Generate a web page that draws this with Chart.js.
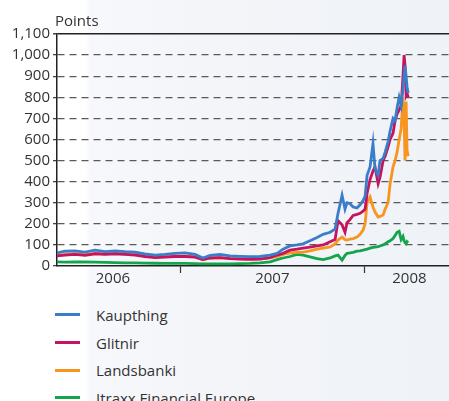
<!DOCTYPE html>
<html>
<head>
<meta charset="utf-8">
<script src="https://cdn.jsdelivr.net/npm/chart.js@4.4.0/dist/chart.umd.min.js"></script>
<style>
  body {
    margin: 0;
    width: 449px;
    height: 401px;
    overflow: hidden;
    font-family: "Open Sans", sans-serif;
    background: linear-gradient(to right, #ffffff 0, #ffffff 19%, #f7f8fb 20%, #f3f5f9 46%, #eff2f7 100%);
  }
  #wrap { position: relative; width: 449px; height: 292px; }
  #legend { position: absolute; left: 55px; top: 301px; }
  .item { display: flex; align-items: center; height: 27.7px; font-size: 15px; color: #333; }
  .swatch { width: 25px; height: 3px; margin-right: 16px; }
</style>
</head>
<body>
<div id="wrap"><canvas id="chart1" width="449" height="292"></canvas></div>
<div id="legend"></div>
<script>
// dates as fractional years
const dates = [
  2006.330, 2006.373, 2006.428, 2006.482, 2006.537, 2006.591, 2006.645, 2006.700,
  2006.754, 2006.808, 2006.863, 2006.917, 2006.971, 2007.026, 2007.080, 2007.123,
  2007.162, 2007.216, 2007.270, 2007.325, 2007.379, 2007.433, 2007.488, 2007.526,
  2007.558, 2007.596, 2007.634, 2007.667, 2007.705, 2007.743, 2007.776, 2007.814,
  2007.841, 2007.857, 2007.879, 2007.895, 2007.906, 2007.922, 2007.939, 2007.960,
  2007.977, 2007.993, 2008.004, 2008.015, 2008.031, 2008.047, 2008.058, 2008.075,
  2008.085, 2008.102, 2008.113, 2008.129, 2008.140, 2008.156, 2008.167, 2008.178,
  2008.189, 2008.200, 2008.210, 2008.216, 2008.221, 2008.227, 2008.232, 2008.238
];

const kaupthing = [
  62, 70, 72, 66, 75, 68, 72, 68, 66, 58, 52, 55, 60, 62, 55, 38,
  50, 55, 48, 46, 44, 45, 52, 60, 80, 95, 100, 105, 120, 135, 150, 160,
  175, 250, 335, 270, 300, 295, 280, 275, 290, 310, 330, 430, 470, 580,
  460, 430, 500, 510, 540, 590, 640, 700, 690, 750, 800, 760, 840, 900,
  950, 900, 850, 820
];
const glitnir = [
  48, 52, 55, 50, 58, 55, 58, 55, 52, 45, 40, 42, 45, 45, 42, 30,
  38, 40, 35, 33, 32, 33, 40, 52, 60, 75, 80, 85, 90, 95, 100, 115,
  125, 215, 195, 160, 205, 220, 240, 245, 250, 260, 270, 345, 410, 450,
  470, 390, 420, 500, 520, 565, 600, 630, 690, 720, 740, 760, 900, 1000,
  950, 810, 820, 800
];
const landsbanki = [
  52, 55, 58, 54, 60, 58, 60, 57, 55, 48, 43, 45, 47, 47, 44, 30,
  38, 40, 36, 34, 33, 34, 38, 45, 55, 62, 65, 66, 72, 80, 85, 90,
  105, 123, 137, 125, 123, 128, 130, 137, 150, 170, 200, 300, 327, 280,
  256, 232, 235, 242, 270, 300, 390, 470, 500, 540, 600, 650, 800, 700,
  500, 780, 550, 520
];
const itraxx = [
  20, 18, 20, 19, 18, 17, 16, 15, 15, 14, 13, 12, 12, 12, 11, 10,
  10, 10, 10, 11, 12, 15, 20, 30, 38, 45, 55, 52, 43, 35, 30, 38,
  48, 52, 28, 50, 60, 62, 65, 70, 72, 75, 78, 80, 85, 88, 90, 92,
  95, 100, 105, 115, 120, 130, 145, 160, 165, 125, 140, 120, 110, 105,
  115, 110
];

const seriesNames = ["Kaupthing", "Glitnir", "Landsbanki", "Itraxx Financial Europe"];
const seriesColors = ["#3a7dc8", "#c6135f", "#f7951e", "#12a54b"];
const seriesValues = [kaupthing, glitnir, landsbanki, itraxx];

// year boundaries get a tick mark, mid-year positions carry the label
const yearMarks = [2007, 2008];
const yearLabelAt = [2006.634, 2007.5, 2008.245];
const yearLabels = ["2006", "2007", "2008"];

const txt = "#333";
const font = { family: "'Open Sans', sans-serif", size: 15 };

const pointsTitle = {
  id: "pointsTitle",
  afterDraw(chart) {
    const c = chart.ctx;
    c.save();
    c.font = "15px 'Open Sans', sans-serif";
    c.fillStyle = txt;
    c.textBaseline = "alphabetic";
    c.fillText("Points", 55, 26);
    c.restore();
  }
};

const datasets = seriesNames.map((name, i) => ({
  label: name,
  data: dates.map((d, j) => ({ x: d, y: seriesValues[i][j] })),
  borderColor: seriesColors[i],
  backgroundColor: seriesColors[i],
  borderWidth: 2.8,
  pointRadius: 0,
  tension: 0,
  fill: false
}));

const chart1 = new Chart(document.getElementById("chart1"), {
  type: "line",
  data: { datasets: datasets },
  options: {
    responsive: false,
    animation: false,
    layout: { padding: { top: 34, left: 0, right: 0, bottom: 0 } },
    plugins: { legend: { display: false }, tooltip: { enabled: false } },
    scales: {
      x: {
        type: "linear",
        min: 2006.33,
        max: 2008.46,
        afterBuildTicks: (axis) => {
          axis.ticks = yearLabelAt.concat(yearMarks).sort().map(v => ({ value: v }));
        },
        afterFit: (axis) => { axis.height = 26; },
        ticks: {
          autoSkip: false,
          maxRotation: 0,
          padding: -3,
          color: txt,
          font: font,
          callback: (v) => {
            const k = yearLabelAt.indexOf(v);
            return k >= 0 ? yearLabels[k] : "";
          }
        },
        grid: {
          drawOnChartArea: false,
          drawTicks: true,
          tickLength: 7,
          tickWidth: 1.2,
          tickColor: (ctx) => (ctx.tick && yearMarks.includes(ctx.tick.value)) ? "#333" : "rgba(0,0,0,0)"
        },
        border: { display: true, color: "#222", width: 1.5 }
      },
      y: {
        min: 0,
        max: 1100,
        afterFit: (axis) => { axis.width = 57; },
        ticks: {
          stepSize: 100,
          padding: 3,
          color: txt,
          font: font
        },
        grid: {
          drawTicks: true,
          tickLength: 4,
          tickColor: "#444",
          color: (ctx) => {
            if (!ctx.tick) return "#555";
            if (ctx.tick.value === 0) return "rgba(0,0,0,0)";
            if (ctx.tick.value === 1100) return "#222";
            return "#5a5a5a";
          },
          lineWidth: (ctx) => (ctx.tick && ctx.tick.value === 1100) ? 1.5 : 1.3
        },
        border: {
          display: true,
          color: "#222",
          width: 1.5,
          dash: (ctx) => (ctx.tick && ctx.tick.value !== 1100) ? [7, 5] : []
        }
      }
    }
  },
  plugins: [pointsTitle]
});

const legend = document.getElementById("legend");
seriesNames.forEach((name, i) => {
  const row = document.createElement("div");
  row.className = "item";
  row.innerHTML = '<span class="swatch" style="background:' + seriesColors[i] + '"></span><span>' + name + '</span>';
  legend.appendChild(row);
});
</script>
</body>
</html>
